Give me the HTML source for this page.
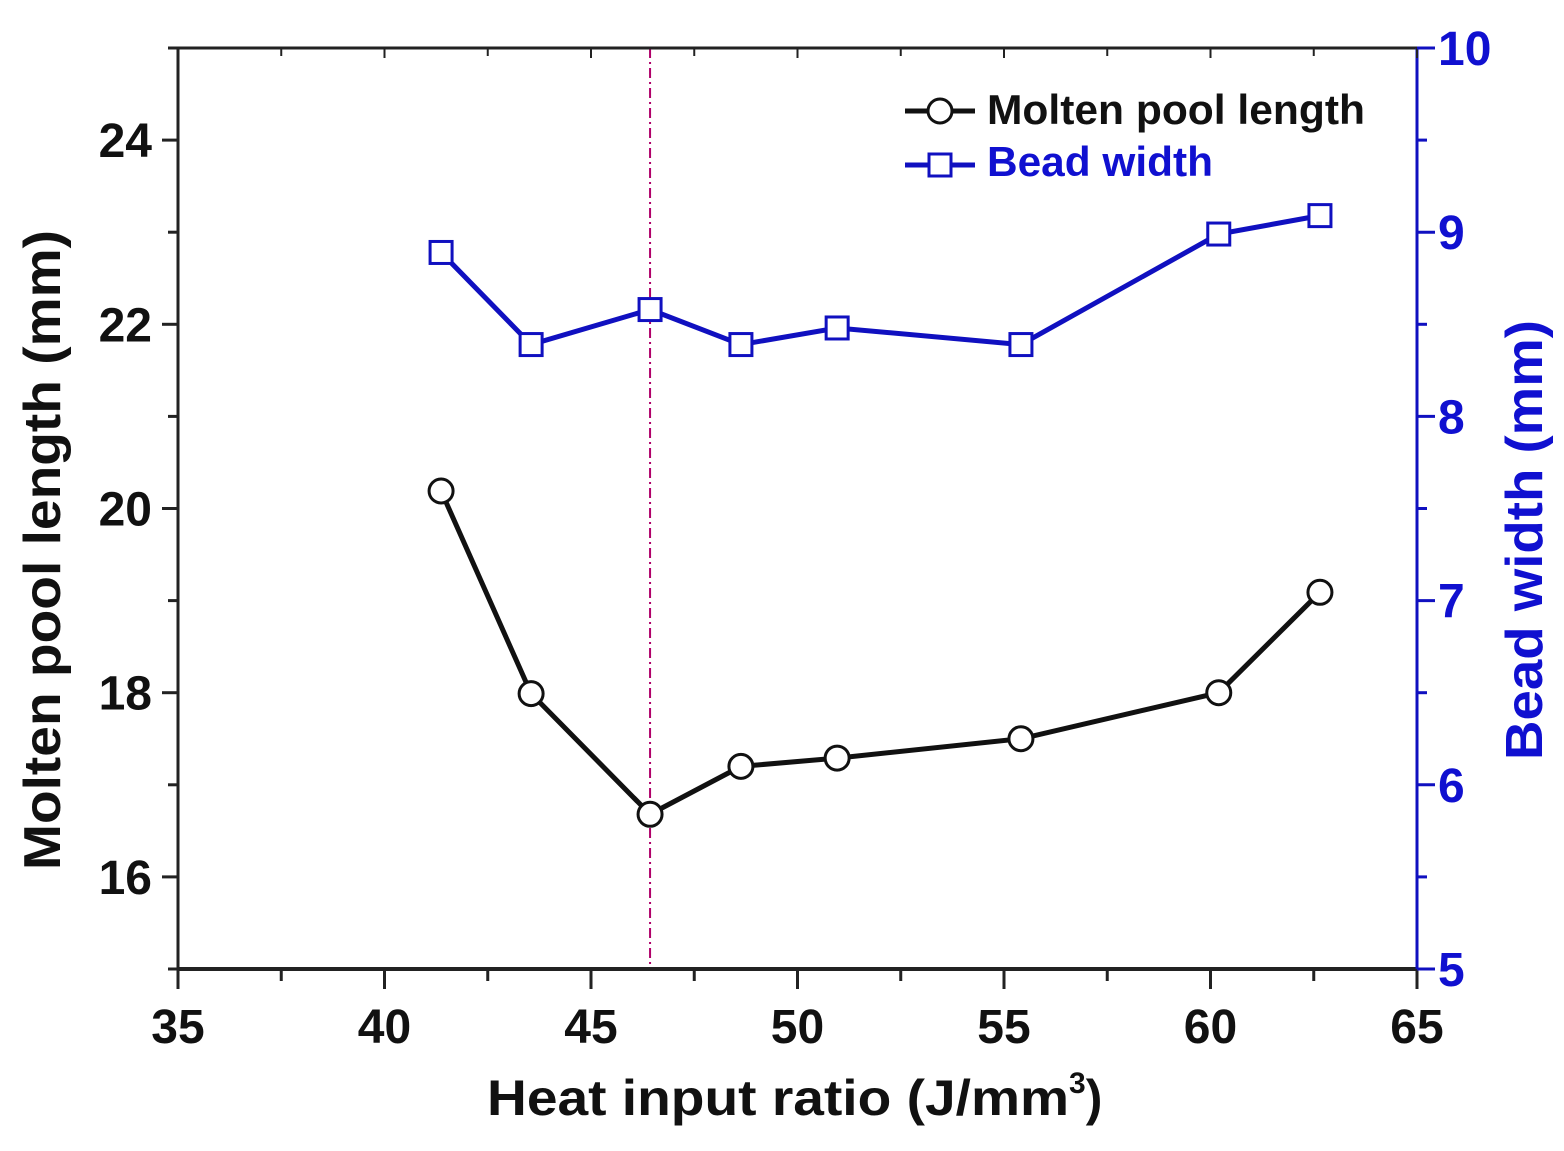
<!DOCTYPE html>
<html><head><meta charset="utf-8"><style>body{margin:0;background:#fff}svg{display:block}</style></head>
<body>
<svg id="chart" width="1564" height="1151" viewBox="0 0 1564 1151" xmlns="http://www.w3.org/2000/svg" font-family="Liberation Sans, Arial, sans-serif" font-weight="bold"></svg>
<script>
const heatInput = [41.37, 43.55, 46.43, 48.63, 50.96, 55.41, 60.2, 62.65];
const poolLength = [20.19, 17.99, 16.68, 17.2, 17.29, 17.5, 18.0, 19.09];
const beadWidth = [8.89, 8.39, 8.58, 8.39, 8.48, 8.39, 8.99, 9.09];
const xTicks = [35, 40, 45, 50, 55, 60, 65];
const yLeftTicks = [16, 18, 20, 22, 24];
const yRightTicks = [5, 6, 7, 8, 9, 10];
const markerX = [46.43];

const L=178,R=1417,T=48,B=969;
const xS=v=>L+(v-35)/30*(R-L);
const yL=v=>B-(v-15)/10*(B-T);
const yR=v=>B-(v-5)/5*(B-T);
const svg=document.getElementById('chart');
const NS='http://www.w3.org/2000/svg';
function mk(tag,attrs,parent){const e=document.createElementNS(NS,tag);for(const k in attrs)e.setAttribute(k,attrs[k]);(parent||svg).appendChild(e);return e;}

markerX.forEach(v=>{const l=mk('line',{x1:xS(v),x2:xS(v),y1:T,y2:B,stroke:'#b0006a','stroke-width':2,'stroke-dasharray':'10,4,2,4'});

});

const ax=mk('g',{});


mk('line',{x1:L,x2:R,y1:B,y2:B,stroke:'#222','stroke-width':4},ax);
mk('line',{x1:L,x2:R,y1:T,y2:T,stroke:'#222','stroke-width':3},ax);
mk('line',{x1:L,x2:L,y1:T,y2:B,stroke:'#222','stroke-width':3},ax);
mk('line',{x1:R,x2:R,y1:T,y2:B,stroke:'#1010c0','stroke-width':3},ax);

for(let v=35;v<=65;v+=2.5){const maj=v%5===0;const x=xS(v);
mk('line',{x1:x,x2:x,y1:B,y2:B+(maj?20:12),stroke:'#222','stroke-width':3},ax);
mk('line',{x1:x,x2:x,y1:T,y2:T+(maj?10:8),stroke:'#222','stroke-width':2},ax);}
xTicks.forEach(v=>{const t=mk('text',{x:xS(v),y:1043,'font-size':48,'text-anchor':'middle',fill:'#111'});t.textContent=v;

});
for(let v=15;v<=25;v+=1){const maj=v%2===0;const y=yL(v);
mk('line',{x1:L,x2:L-(maj?16:10),y1:y,y2:y,stroke:'#222','stroke-width':3},ax);}
yLeftTicks.forEach(v=>{const t=mk('text',{x:152,y:yL(v)+17,'font-size':48,'text-anchor':'end',fill:'#111'});t.textContent=v;

});
for(let v=5;v<=10;v+=0.5){const maj=v%1===0;const y=yR(v);
mk('line',{x1:R,x2:R+(maj?18:10),y1:y,y2:y,stroke:'#1010c0','stroke-width':3},ax);}
yRightTicks.forEach(v=>{const t=mk('text',{x:1438,y:yR(v)+17,'font-size':48,'text-anchor':'start',fill:'#1010d0'});t.textContent=v;

});

let t=mk('text',{x:487,y:1115,'font-size':50,fill:'#111'});
t.innerHTML='<tspan textLength="582" lengthAdjust="spacingAndGlyphs">Heat input ratio (J/mm</tspan><tspan dy="-22" font-size="30">3</tspan><tspan dy="22">)</tspan>';


t=mk('text',{x:0,y:0,'font-size':52,'text-anchor':'middle',fill:'#111',transform:'translate(60,550) rotate(-90)',textLength:640,lengthAdjust:'spacingAndGlyphs'});
t.textContent='Molten pool length (mm)';


t=mk('text',{x:0,y:0,'font-size':52,'text-anchor':'middle',fill:'#1010d0',transform:'translate(1542,540) rotate(-90)',textLength:440,lengthAdjust:'spacingAndGlyphs'});
t.textContent='Bead width (mm)';



function series(vals,yf,color,shape,name){
 const g=mk('g',{});
 
 
 mk('polyline',{points:heatInput.map((x,i)=>xS(x)+','+yf(vals[i])).join(' '),fill:'none',stroke:color,'stroke-width':5},g);
 heatInput.forEach((x,i)=>{let m;
  if(shape==='c')m=mk('circle',{cx:xS(x),cy:yf(vals[i]),r:12,fill:'#fff',stroke:color,'stroke-width':3},g);
  else m=mk('rect',{x:xS(x)-11,y:yf(vals[i])-11,width:22,height:22,fill:'#fff',stroke:color,'stroke-width':3},g);
  
  });
}
series(beadWidth,yR,'#1010c0','s','bead-width-series');
series(poolLength,yL,'#111','c','molten-pool-length-series');

const lg=mk('g',{});


mk('line',{x1:905,x2:975,y1:111,y2:111,stroke:'#111','stroke-width':5},lg);
mk('circle',{cx:940,cy:111,r:12,fill:'#fff',stroke:'#111','stroke-width':3},lg);
t=mk('text',{x:987,y:124,'font-size':42,fill:'#111',textLength:378,lengthAdjust:'spacingAndGlyphs'},lg);t.textContent='Molten pool length';


mk('line',{x1:905,x2:975,y1:165,y2:165,stroke:'#1010c0','stroke-width':5},lg);
mk('rect',{x:929,y:154,width:22,height:22,fill:'#fff',stroke:'#1010c0','stroke-width':3},lg);
t=mk('text',{x:987,y:176,'font-size':42,fill:'#1010d0',textLength:226,lengthAdjust:'spacingAndGlyphs'},lg);t.textContent='Bead width';


</script>
</body></html>
